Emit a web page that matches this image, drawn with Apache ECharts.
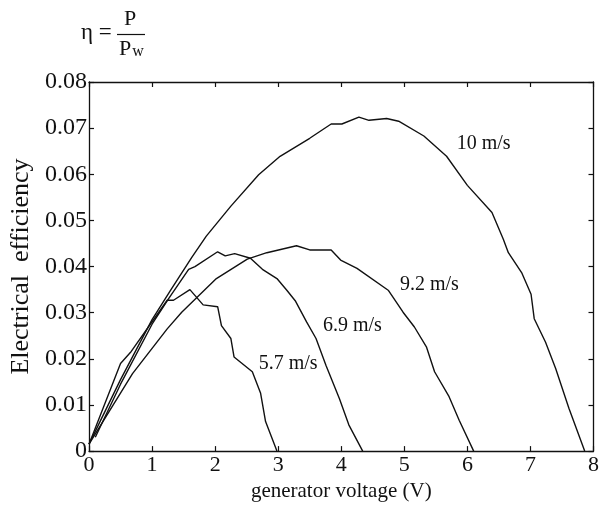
<!DOCTYPE html>
<html>
<head>
<meta charset="utf-8">
<script src="https://cdn.jsdelivr.net/npm/echarts@6/dist/echarts.min.js"></script>
<style>
  html, body { margin: 0; padding: 0; background: #fff; }
  #chart { width: 602px; height: 507px; }
</style>
</head>
<body>
<div id="chart"></div>
<script>
// [voltage, efficiency] pairs
const speed10 = [
  [0, 0.0015], [0.5, 0.0155], [1.0, 0.0285], [1.3, 0.035], [1.63, 0.042],
  [1.86, 0.0466], [2.25, 0.0531], [2.69, 0.0599], [3.03, 0.0639], [3.5, 0.0678],
  [3.84, 0.0709], [4.01, 0.0709], [4.28, 0.0724], [4.44, 0.0717], [4.72, 0.0721],
  [4.91, 0.0715], [5.31, 0.0683], [5.67, 0.0639], [6.0, 0.0576], [6.39, 0.0517],
  [6.57, 0.0459], [6.65, 0.043], [6.86, 0.0387], [7.01, 0.034], [7.06, 0.0287],
  [7.24, 0.0236], [7.4, 0.0179], [7.61, 0.0093], [7.86, 0]
];
const speed92 = [
  [0, 0.0015], [0.69, 0.0168], [1.24, 0.0265], [1.47, 0.0301], [2.02, 0.0374],
  [2.51, 0.0416], [2.82, 0.043], [3.29, 0.0445], [3.5, 0.0436], [3.84, 0.0436],
  [3.99, 0.0414], [4.25, 0.0396], [4.75, 0.0348], [4.98, 0.0301], [5.16, 0.0269],
  [5.35, 0.0226], [5.48, 0.0172], [5.71, 0.0118], [5.87, 0.0067], [6.1, 0]
];
const speed69 = [
  [0.1, 0.003], [0.5, 0.0145], [1.0, 0.0275], [1.26, 0.033], [1.58, 0.0394],
  [1.68, 0.04], [2.04, 0.0432], [2.16, 0.0423], [2.31, 0.0428], [2.56, 0.0418],
  [2.75, 0.0394], [2.98, 0.0374], [3.14, 0.0348], [3.27, 0.0326], [3.45, 0.028],
  [3.6, 0.0244], [3.76, 0.0185], [3.97, 0.0114], [4.12, 0.0057], [4.34, 0]
];
const speed57 = [
  [0, 0.0015], [0.5, 0.019], [0.67, 0.0216], [1.24, 0.0327], [1.34, 0.0327],
  [1.6, 0.035], [1.81, 0.0317], [2.04, 0.0313], [2.1, 0.0272], [2.25, 0.0244],
  [2.3, 0.0204], [2.59, 0.0172], [2.72, 0.0126], [2.8, 0.0064], [2.98, 0]
];

const curveNames = ['10 m/s', '9.2 m/s', '6.9 m/s', '5.7 m/s'];
const labelSpots = [[5.83, 0.0666], [4.93, 0.036], [3.71, 0.0271], [2.69, 0.019]];

const font = '"Liberation Serif", "DejaVu Serif", serif';
const ink = '#111';

function frameAxis(extra) {
  return Object.assign({
    type: 'value',
    axisLine: { show: true, onZero: false, lineStyle: { color: ink, width: 1.3 } },
    axisTick: { show: true, inside: true, length: 5, lineStyle: { color: ink, width: 1.2 } },
    splitLine: { show: false },
    axisLabel: { show: false }
  }, extra);
}

const chart = echarts.init(document.getElementById('chart'));

chart.setOption({
  animation: false,
  backgroundColor: '#fff',
  grid: { left: 89, right: 1, top: 82, bottom: 54 },
  xAxis: [
    frameAxis({
      position: 'bottom', min: 0, max: 8, interval: 1,
      axisLabel: { show: true, color: ink, fontFamily: font, fontSize: 22, margin: 3 },
      name: 'generator voltage (V)', nameLocation: 'middle', nameGap: 28,
      nameTextStyle: { color: ink, fontFamily: font, fontSize: 21 }
    }),
    frameAxis({ position: 'top', min: 0, max: 8, interval: 1 })
  ],
  yAxis: [
    frameAxis({
      position: 'left', min: 0, max: 0.08, interval: 0.01,
      axisLabel: {
        show: true, color: ink, fontFamily: font, fontSize: 24, margin: 2,
        formatter: (v) => (v === 0 ? '0' : v.toFixed(2))
      },
      name: 'Electrical  efficiency', nameLocation: 'middle', nameGap: 52,
      nameTextStyle: { color: ink, fontFamily: font, fontSize: 26 }
    }),
    frameAxis({ position: 'right', min: 0, max: 0.08, interval: 0.01 })
  ],
  series: [
    ...[speed10, speed92, speed69, speed57].map((d, i) => ({
      type: 'line',
      name: curveNames[i],
      data: d,
      symbol: 'none',
      smooth: false,
      lineStyle: { color: ink, width: 1.4 }
    })),
    {
      type: 'scatter',
      symbolSize: 0,
      itemStyle: { opacity: 1 },
      data: labelSpots.map((p, i) => ({ value: p, name: curveNames[i] })),
      label: {
        show: true, position: 'right', distance: 0,
        formatter: (p) => p.name,
        color: ink, fontFamily: font, fontSize: 20
      },
      silent: true
    }
  ],
  graphic: [
    { type: 'text', left: 81, top: 21, style: { text: 'η =', fill: ink, font: '23px ' + font } },
    { type: 'text', left: 124, top: 8, style: { text: 'P', fill: ink, font: '22px ' + font } },
    { type: 'line', shape: { x1: 117, y1: 34.5, x2: 145, y2: 34.5 }, style: { stroke: ink, lineWidth: 1.2 } },
    {
      type: 'text', left: 119, top: 38,
      style: {
        text: '{p|P}{w|w}',
        rich: {
          p: { fill: ink, font: '22px ' + font },
          w: { fill: ink, font: '16px ' + font, padding: [6, 0, 0, 1] }
        }
      }
    }
  ]
});
</script>
</body>
</html>
